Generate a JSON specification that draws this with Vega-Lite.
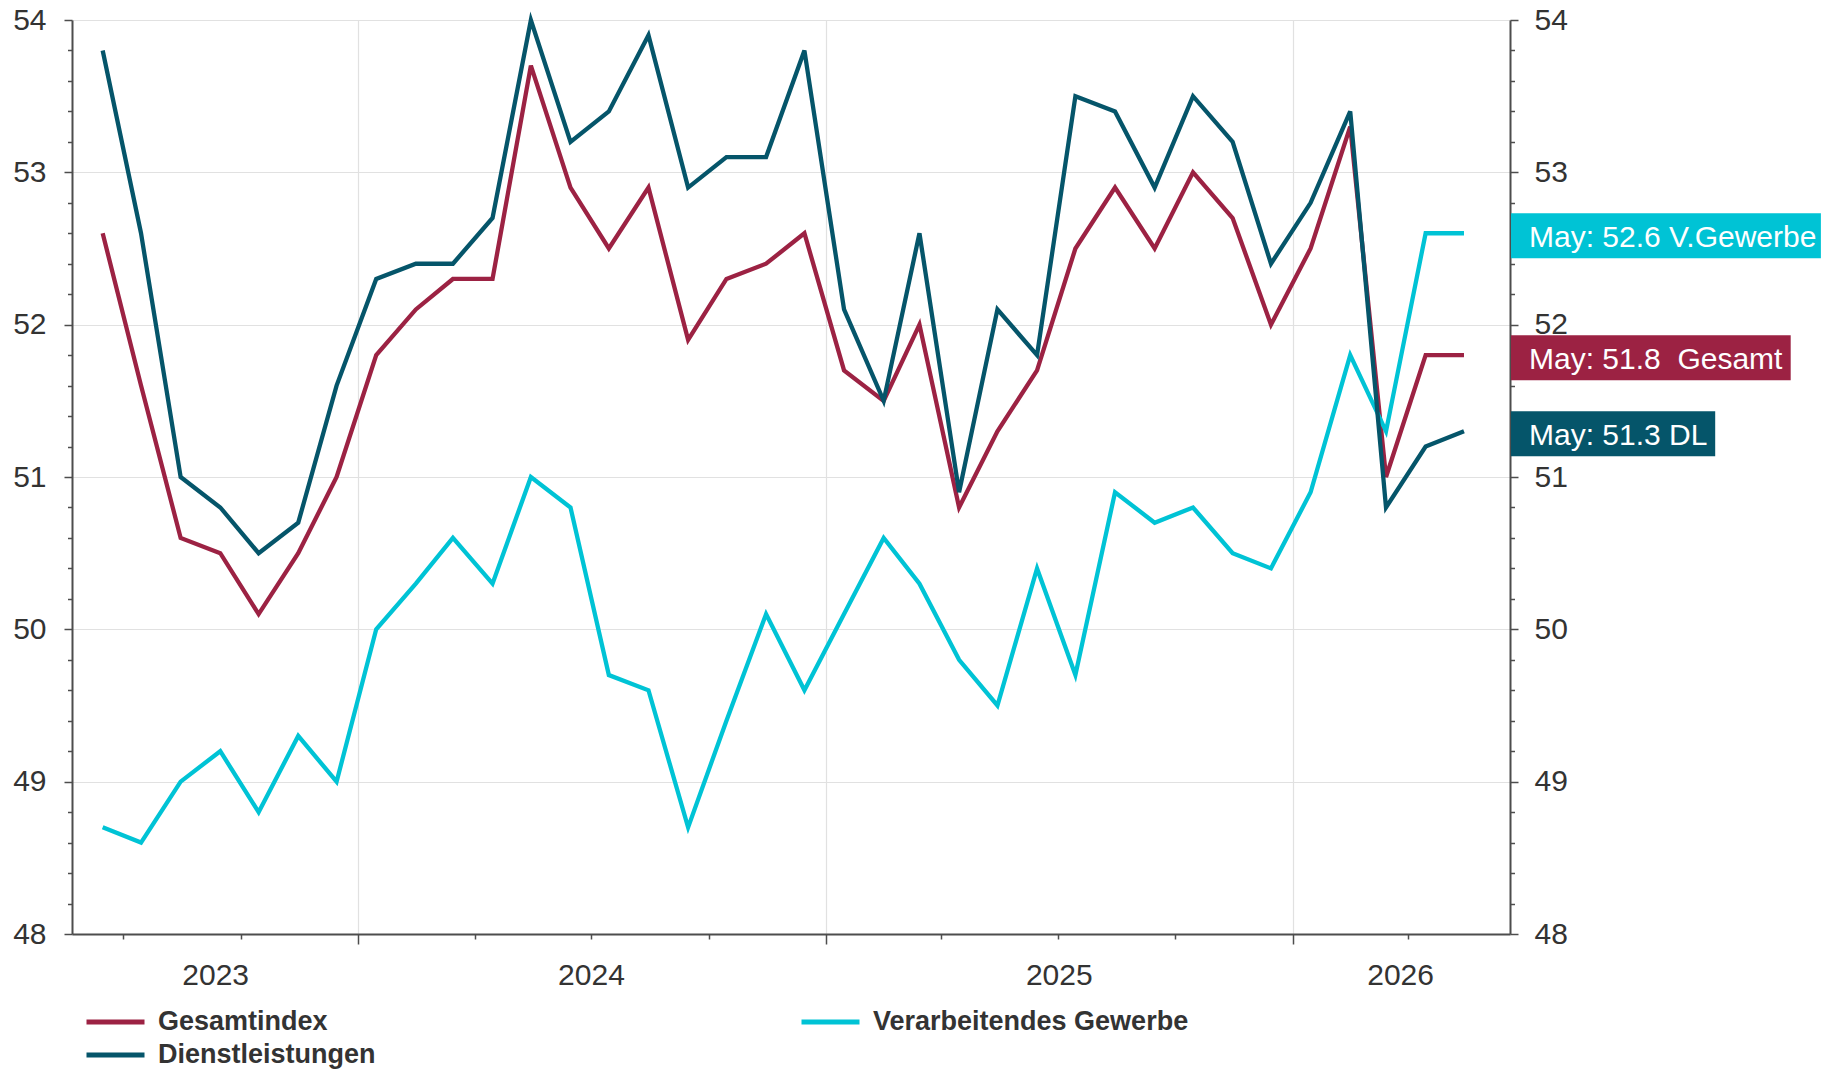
{
  "$schema": "https://vega.github.io/schema/vega-lite/v6.json",
  "autosize": {"type": "none"},
  "width": 1438,
  "height": 914,
  "padding": {"left": 72, "top": 20, "right": 326, "bottom": 138},
  "background": "white",
  "config": {
    "view": {"stroke": null},
    "axis": {
      "labelFont": "Liberation Sans, Arial",
      "labelColor": "#333333",
      "labelFontSize": 30,
      "domainColor": "#4d4d4d",
      "domainWidth": 2,
      "tickColor": "#4d4d4d",
      "tickWidth": 1.5,
      "gridColor": "#e1e1e1",
      "gridWidth": 1.2,
      "labelFlush": false,
      "labelOverlap": false,
      "labelBound": false
    }
  },
  "datasets": {
    "pmi": [
      {"date": "2023-06-15", "Gesamtindex": 52.6, "Verarbeitendes Gewerbe": 48.7, "Dienstleistungen": 53.8},
      {"date": "2023-07-15", "Gesamtindex": 51.6, "Verarbeitendes Gewerbe": 48.6, "Dienstleistungen": 52.6},
      {"date": "2023-08-15", "Gesamtindex": 50.6, "Verarbeitendes Gewerbe": 49.0, "Dienstleistungen": 51.0},
      {"date": "2023-09-15", "Gesamtindex": 50.5, "Verarbeitendes Gewerbe": 49.2, "Dienstleistungen": 50.8},
      {"date": "2023-10-15", "Gesamtindex": 50.1, "Verarbeitendes Gewerbe": 48.8, "Dienstleistungen": 50.5},
      {"date": "2023-11-15", "Gesamtindex": 50.5, "Verarbeitendes Gewerbe": 49.3, "Dienstleistungen": 50.7},
      {"date": "2023-12-15", "Gesamtindex": 51.0, "Verarbeitendes Gewerbe": 49.0, "Dienstleistungen": 51.6},
      {"date": "2024-01-15", "Gesamtindex": 51.8, "Verarbeitendes Gewerbe": 50.0, "Dienstleistungen": 52.3},
      {"date": "2024-02-15", "Gesamtindex": 52.1, "Verarbeitendes Gewerbe": 50.3, "Dienstleistungen": 52.4},
      {"date": "2024-03-15", "Gesamtindex": 52.3, "Verarbeitendes Gewerbe": 50.6, "Dienstleistungen": 52.4},
      {"date": "2024-04-15", "Gesamtindex": 52.3, "Verarbeitendes Gewerbe": 50.3, "Dienstleistungen": 52.7},
      {"date": "2024-05-15", "Gesamtindex": 53.7, "Verarbeitendes Gewerbe": 51.0, "Dienstleistungen": 54.0},
      {"date": "2024-06-15", "Gesamtindex": 52.9, "Verarbeitendes Gewerbe": 50.8, "Dienstleistungen": 53.2},
      {"date": "2024-07-15", "Gesamtindex": 52.5, "Verarbeitendes Gewerbe": 49.7, "Dienstleistungen": 53.4},
      {"date": "2024-08-15", "Gesamtindex": 52.9, "Verarbeitendes Gewerbe": 49.6, "Dienstleistungen": 53.9},
      {"date": "2024-09-15", "Gesamtindex": 51.9, "Verarbeitendes Gewerbe": 48.7, "Dienstleistungen": 52.9},
      {"date": "2024-10-15", "Gesamtindex": 52.3, "Verarbeitendes Gewerbe": 49.4, "Dienstleistungen": 53.1},
      {"date": "2024-11-15", "Gesamtindex": 52.4, "Verarbeitendes Gewerbe": 50.1, "Dienstleistungen": 53.1},
      {"date": "2024-12-15", "Gesamtindex": 52.6, "Verarbeitendes Gewerbe": 49.6, "Dienstleistungen": 53.8},
      {"date": "2025-01-15", "Gesamtindex": 51.7, "Verarbeitendes Gewerbe": 50.1, "Dienstleistungen": 52.1},
      {"date": "2025-02-15", "Gesamtindex": 51.5, "Verarbeitendes Gewerbe": 50.6, "Dienstleistungen": 51.5},
      {"date": "2025-03-15", "Gesamtindex": 52.0, "Verarbeitendes Gewerbe": 50.3, "Dienstleistungen": 52.6},
      {"date": "2025-04-15", "Gesamtindex": 50.8, "Verarbeitendes Gewerbe": 49.8, "Dienstleistungen": 50.9},
      {"date": "2025-05-15", "Gesamtindex": 51.3, "Verarbeitendes Gewerbe": 49.5, "Dienstleistungen": 52.1},
      {"date": "2025-06-15", "Gesamtindex": 51.7, "Verarbeitendes Gewerbe": 50.4, "Dienstleistungen": 51.8},
      {"date": "2025-07-15", "Gesamtindex": 52.5, "Verarbeitendes Gewerbe": 49.7, "Dienstleistungen": 53.5},
      {"date": "2025-08-15", "Gesamtindex": 52.9, "Verarbeitendes Gewerbe": 50.9, "Dienstleistungen": 53.4},
      {"date": "2025-09-15", "Gesamtindex": 52.5, "Verarbeitendes Gewerbe": 50.7, "Dienstleistungen": 52.9},
      {"date": "2025-10-15", "Gesamtindex": 53.0, "Verarbeitendes Gewerbe": 50.8, "Dienstleistungen": 53.5},
      {"date": "2025-11-15", "Gesamtindex": 52.7, "Verarbeitendes Gewerbe": 50.5, "Dienstleistungen": 53.2},
      {"date": "2025-12-15", "Gesamtindex": 52.0, "Verarbeitendes Gewerbe": 50.4, "Dienstleistungen": 52.4},
      {"date": "2026-01-15", "Gesamtindex": 52.5, "Verarbeitendes Gewerbe": 50.9, "Dienstleistungen": 52.8},
      {"date": "2026-02-15", "Gesamtindex": 53.3, "Verarbeitendes Gewerbe": 51.8, "Dienstleistungen": 53.4},
      {"date": "2026-03-15", "Gesamtindex": 51.0, "Verarbeitendes Gewerbe": 51.3, "Dienstleistungen": 50.8},
      {"date": "2026-04-15", "Gesamtindex": 51.8, "Verarbeitendes Gewerbe": 52.6, "Dienstleistungen": 51.2},
      {"date": "2026-05-15", "Gesamtindex": 51.8, "Verarbeitendes Gewerbe": 52.6, "Dienstleistungen": 51.3}
    ],
    "notes": [
      {"series": "Verarbeitendes Gewerbe", "value": 52.6, "label": "May: 52.6 V.Gewerbe"},
      {"series": "Gesamtindex", "value": 51.8, "label": "May: 51.8\u00a0 Gesamt"},
      {"series": "Dienstleistungen", "value": 51.3, "label": "May: 51.3 DL"}
    ]
  },
  "layer": [
    {
      "data": {"name": "pmi"},
      "transform": [{"fold": ["Gesamtindex", "Verarbeitendes Gewerbe", "Dienstleistungen"], "as": ["series", "value"]}],
      "mark": {"type": "line", "strokeWidth": 4.3},
      "encoding": {
        "x": {
          "field": "date", "type": "temporal",
          "scale": {"type": "utc", "nice": false, "domain": [{"year": 2023, "month": 5, "date": 22, "utc": true}, {"year": 2026, "month": 6, "date": 20, "utc": true}]},
          "axis": {
            "orient": "bottom", "title": null, "labels": false, "grid": true, "ticks": true, "tickSize": 10, "domain": true,
            "values": [{"year": 2024, "month": 1, "date": 1, "utc": true}, {"year": 2025, "month": 1, "date": 1, "utc": true}, {"year": 2026, "month": 1, "date": 1, "utc": true}]
          }
        },
        "y": {
          "field": "value", "type": "quantitative",
          "scale": {"domain": [48, 54], "nice": false, "zero": false},
          "axis": {"orient": "left", "title": null, "values": [48, 49, 50, 51, 52, 53, 54], "grid": true, "tickSize": 8, "labelPadding": 18, "domain": true}
        },
        "color": {
          "field": "series", "type": "nominal",
          "scale": {"domain": ["Gesamtindex", "Verarbeitendes Gewerbe", "Dienstleistungen"], "range": ["#9c2243", "#00c3d5", "#05556a"]},
          "legend": {
            "title": null, "orient": "none", "legendX": 12, "legendY": 988, "direction": "horizontal", "columns": 2,
            "labelFont": "Liberation Sans, Arial", "labelFontWeight": "bold", "labelFontSize": 27, "labelColor": "#333333", "labelLimit": 0,
            "symbolType": "stroke", "symbolStrokeWidth": 5, "symbolSize": 3364, "labelOffset": 11, "clipHeight": 28,
            "columnPadding": 423, "rowPadding": 5, "padding": 0
          }
        }
      }
    },
    {
      "data": {"name": "pmi"},
      "transform": [{"fold": ["Gesamtindex"], "as": ["series", "value"]}],
      "mark": {"type": "point", "opacity": 0, "size": 1},
      "encoding": {
        "x": {
          "field": "date", "type": "temporal",
          "scale": {"type": "utc", "nice": false, "domain": [{"year": 2023, "month": 5, "date": 22, "utc": true}, {"year": 2026, "month": 6, "date": 20, "utc": true}]},
          "axis": {
            "orient": "bottom", "title": null, "labels": false, "grid": false, "ticks": true, "tickSize": 5, "domain": false,
            "values": [
              {"year": 2023, "month": 7, "date": 1, "utc": true}, {"year": 2023, "month": 10, "date": 1, "utc": true},
              {"year": 2024, "month": 4, "date": 1, "utc": true}, {"year": 2024, "month": 7, "date": 1, "utc": true}, {"year": 2024, "month": 10, "date": 1, "utc": true},
              {"year": 2025, "month": 4, "date": 1, "utc": true}, {"year": 2025, "month": 7, "date": 1, "utc": true}, {"year": 2025, "month": 10, "date": 1, "utc": true},
              {"year": 2026, "month": 4, "date": 1, "utc": true}
            ]
          }
        },
        "y": {
          "field": "value", "type": "quantitative",
          "scale": {"domain": [48, 54], "nice": false, "zero": false},
          "axis": {"orient": "left", "title": null, "labels": false, "grid": false, "tickSize": 4.5, "domain": false,
            "values": [48.2, 48.4, 48.6, 48.8, 49.2, 49.4, 49.6, 49.8, 50.2, 50.4, 50.6, 50.8, 51.2, 51.4, 51.6, 51.8, 52.2, 52.4, 52.6, 52.8, 53.2, 53.4, 53.6, 53.8]}
        }
      }
    },
    {
      "data": {"name": "pmi"},
      "transform": [{"fold": ["Gesamtindex"], "as": ["series", "value"]}],
      "mark": {"type": "point", "opacity": 0, "size": 1},
      "encoding": {
        "x": {
          "field": "date", "type": "temporal",
          "scale": {"type": "utc", "nice": false, "domain": [{"year": 2023, "month": 5, "date": 22, "utc": true}, {"year": 2026, "month": 6, "date": 20, "utc": true}]},
          "axis": {
            "orient": "bottom", "title": null, "labels": true, "grid": false, "ticks": false, "domain": false,
            "labelPadding": 26, "labelExpr": "utcFormat(datum.value, '%Y')",
            "values": [{"year": 2023, "month": 9, "date": 11, "utc": true}, {"year": 2024, "month": 7, "date": 1, "utc": true}, {"year": 2025, "month": 7, "date": 2, "utc": true}, {"year": 2026, "month": 3, "date": 26, "utc": true}]
          }
        },
        "y": {
          "field": "value", "type": "quantitative",
          "scale": {"domain": [48, 54], "nice": false, "zero": false},
          "axis": {"orient": "right", "title": null, "values": [48, 49, 50, 51, 52, 53, 54], "grid": false, "tickSize": 8, "labelPadding": 16, "domain": true}
        }
      }
    },
    {
      "data": {"name": "pmi"},
      "transform": [{"fold": ["Gesamtindex"], "as": ["series", "value"]}],
      "mark": {"type": "point", "opacity": 0, "size": 1},
      "encoding": {
        "x": {
          "field": "date", "type": "temporal",
          "scale": {"type": "utc", "nice": false, "domain": [{"year": 2023, "month": 5, "date": 22, "utc": true}, {"year": 2026, "month": 6, "date": 20, "utc": true}]},
          "axis": null
        },
        "y": {
          "field": "value", "type": "quantitative",
          "scale": {"domain": [48, 54], "nice": false, "zero": false},
          "axis": {"orient": "right", "title": null, "labels": false, "grid": false, "tickSize": 4.5, "domain": false,
            "values": [48.2, 48.4, 48.6, 48.8, 49.2, 49.4, 49.6, 49.8, 50.2, 50.4, 50.6, 50.8, 51.2, 51.4, 51.6, 51.8, 52.2, 52.4, 52.6, 52.8, 53.2, 53.4, 53.6, 53.8]}
        }
      }
    },
    {
      "data": {"name": "notes"},
      "mark": {"type": "rect", "xOffset": 1, "x2Offset": {"expr": "24 + 15.1*length(datum.label)"}, "yOffset": -20, "y2Offset": 25},
      "encoding": {
        "x": {"datum": {"year": 2026, "month": 6, "date": 20, "utc": true}, "type": "temporal", "axis": null},
        "x2": {"datum": {"year": 2026, "month": 6, "date": 20, "utc": true}},
        "y": {"field": "value", "type": "quantitative", "axis": null},
        "y2": {"field": "value"},
        "color": {"field": "series", "type": "nominal", "legend": null}
      }
    },
    {
      "data": {"name": "notes"},
      "mark": {"type": "text", "align": "left", "baseline": "alphabetic", "dx": 19, "dy": 14, "font": "Liberation Sans, Arial", "fontSize": 30, "color": "#ffffff"},
      "encoding": {
        "x": {"datum": {"year": 2026, "month": 6, "date": 20, "utc": true}, "type": "temporal", "axis": null},
        "y": {"field": "value", "type": "quantitative", "axis": null},
        "text": {"field": "label"}
      }
    }
  ],
  "resolve": {"axis": {"x": "independent", "y": "independent"}}
}
